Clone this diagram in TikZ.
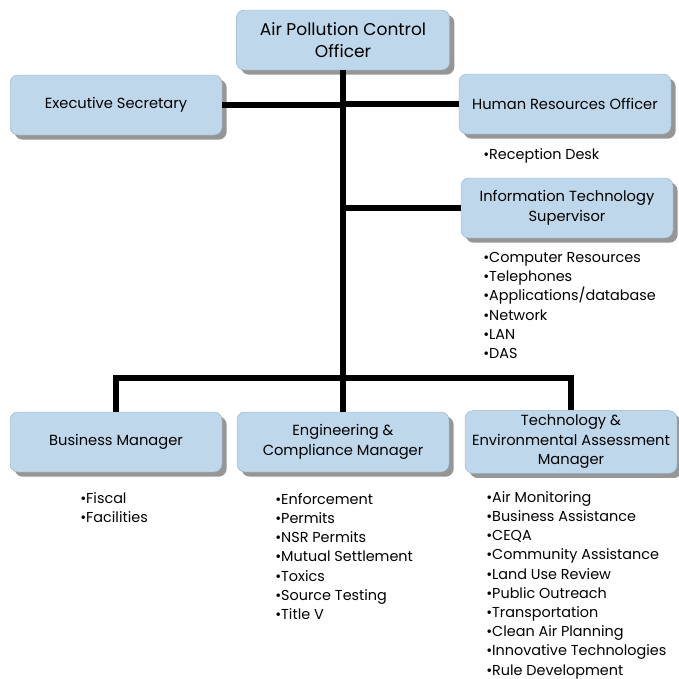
\documentclass[tikz,border=0pt]{standalone}
\usepackage{fontspec}
\setmainfont{Poppins}
\usetikzlibrary{shadows}
\definecolor{boxblue}{RGB}{190,215,234}
\definecolor{boxedge}{RGB}{150,175,195}
\definecolor{shadegray}{RGB}{150,150,150}
\tikzstyle{orgbox}=[draw=boxedge,fill=boxblue,rounded corners=6pt,line width=0.3pt,
  minimum width=159pt,minimum height=45pt,align=center,font=\fontsize{11}{14.6}\selectfont,
  drop shadow={fill=shadegray,opacity=1,shadow xshift=3.5pt,shadow yshift=-3.5pt}]
\tikzstyle{orgline}=[draw=black,line width=5pt,line join=miter]
\tikzstyle{duties}=[anchor=north west,align=left,inner sep=0pt,font=\fontsize{10.8}{14.4}\selectfont]

\begin{document}
\begin{tikzpicture}[x=0.75pt,y=-0.75pt]
  \useasboundingbox (0,0) rectangle (679,679);

  \coordinate (hub) at (343,378);

  \node[orgbox,minimum width=160pt,font=\fontsize{12.8}{16.5}\selectfont] (apco) at (343,40) {Air Pollution Control\\Officer};
  \node[orgbox] (exec) at (116,105) {Executive Secretary};
  \node[orgbox] (hr) at (565,104) {Human Resources Officer};
  \node[orgbox] (it) at (567,208) {Information Technology\\Supervisor};
  \node[orgbox] (bm) at (116,442) {Business Manager};
  \node[orgbox] (ecm) at (343,442) {Engineering \&\\Compliance Manager};
  \node[orgbox] (team) at (571,442) {Technology \&\\Environmental Assessment\\Manager};

  % reporting lines
  \draw[orgline] (apco.south) -- (ecm.north);
  \draw[orgline] (exec.east) -- (exec.east -| apco.south);
  \draw[orgline] (hr.west) -- (hr.west -| apco.south);
  \draw[orgline] (it.west) -- (it.west -| apco.south);
  \draw[orgline] (bm.north) |- (hub) -| (team.north);

  \node[duties] (hrlist) at (483,148) {•Reception Desk};
  \node[duties] (itlist) at (483,252) {•Computer Resources\\•Telephones\\•Applications/database\\•Network\\•LAN\\•DAS};
  \node[duties] (bmlist) at (80,492) {•Fiscal\\•Facilities};
  \node[duties] (ecmlist) at (275,493) {•Enforcement\\•Permits\\•NSR Permits\\•Mutual Settlement\\•Toxics\\•Source Testing\\•Title V};
  \node[duties] (teamlist) at (486,491) {•Air Monitoring\\•Business Assistance\\•CEQA\\•Community Assistance\\•Land Use Review\\•Public Outreach\\•Transportation\\•Clean Air Planning\\•Innovative Technologies\\•Rule Development};
\end{tikzpicture}
\end{document}
